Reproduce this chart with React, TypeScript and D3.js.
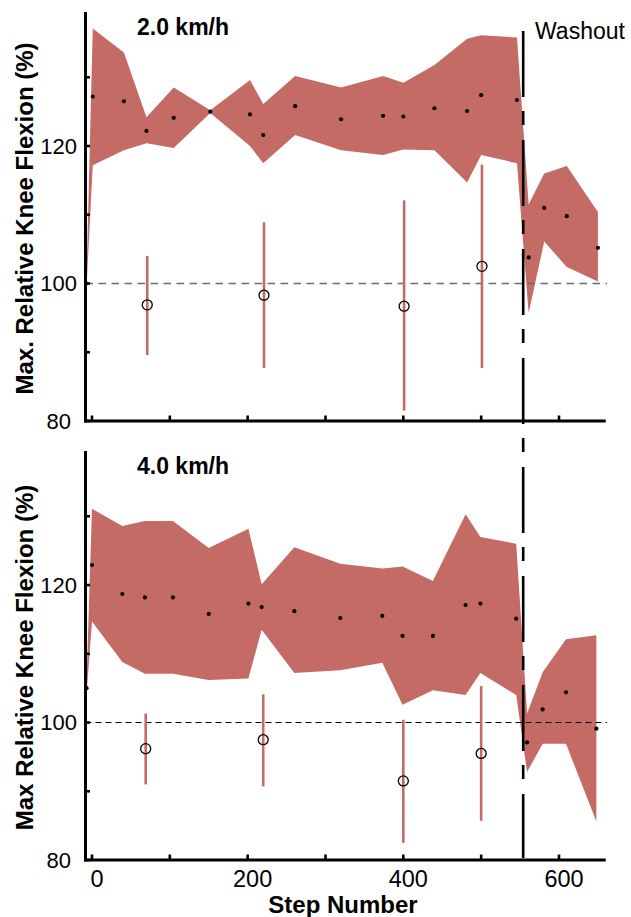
import React from 'react';
import * as d3 from 'd3';

// ---------- data: 2.0 km/h ----------
const slowSteps = [-7, 1, 41, 70, 105, 152, 203, 220, 261, 320, 374, 400, 440, 482, 500, 546, 561, 581, 610, 650];
const slowMean = [100, 127.2, 126.5, 122.2, 124.1, 125.0, 124.6, 121.6, 125.8, 123.9, 124.4, 124.3, 125.5, 125.1, 127.4, 126.7, 103.8, 111.0, 109.8, 105.2];
const slowHigh = [101, 137.1, 133.6, 124.2, 128.5, 125.2, 129.6, 126.1, 130.2, 128.5, 130.2, 129.2, 131.8, 135.6, 136.1, 135.8, 111.5, 116.0, 117.1, 110.4];
const slowLow = [99.5, 117.2, 119.4, 120.4, 119.7, 124.8, 120.0, 117.5, 121.6, 119.4, 118.7, 119.5, 119.4, 114.7, 118.7, 117.5, 95.7, 106.1, 102.4, 100.3];

const slowErrSteps = [71, 221, 401, 501];
const slowErrMean = [96.9, 98.3, 96.7, 102.5];
const slowErrHigh = [104.0, 108.9, 112.1, 117.3];
const slowErrLow = [89.6, 87.7, 81.5, 87.7];

// ---------- data: 4.0 km/h ----------
const fastSteps = [-7, 0, 39, 68, 104, 150, 201, 218, 260, 319, 373, 399, 438, 480, 499, 545, 559, 579, 609, 648];
const fastMean = [105, 122.9, 118.7, 118.2, 118.2, 115.8, 117.3, 116.8, 116.2, 115.2, 115.5, 112.6, 112.6, 117.1, 117.3, 115.1, 97.1, 101.9, 104.4, 99.1];
const fastHigh = [106, 131.1, 128.6, 129.3, 129.3, 125.4, 128.2, 120.1, 125.5, 123.1, 122.4, 122.7, 120.6, 130.3, 127.0, 126.0, 101.3, 107.3, 112.1, 112.7];
const fastLow = [104, 114.7, 108.8, 107.1, 107.1, 106.2, 106.4, 113.5, 107.2, 107.6, 108.7, 102.6, 104.7, 104.0, 107.2, 104.0, 92.8, 96.9, 96.9, 85.6];

const fastErrSteps = [69, 220, 400, 500];
const fastErrMean = [96.2, 97.5, 91.5, 95.5];
const fastErrHigh = [101.3, 104.1, 100.4, 105.3];
const fastErrLow = [91.0, 90.7, 82.5, 85.7];

// ---------- axes ----------
const xTicks = [0, 100, 200, 300, 400, 500, 600];
const xTickLabels = [0, 200, 400, 600];
const yTicks = [80, 90, 100, 110, 120, 130];
const yTickLabels = [80, 100, 120];
const washoutStep = 554;
const baselineValue = 100;

const titles = ['2.0 km/h', '4.0 km/h'];
const yLabels = ['Max. Relative Knee Flexion (%)', 'Max Relative Knee Flexion (%)'];
const xLabel = 'Step Number';
const washoutLabel = 'Washout';

const FONT = "'Liberation Sans', Arial, Helvetica, sans-serif";
const BAND = '#c56b66';

const xScale = d3.scaleLinear().domain([-10, 660]).range([84.2, 605.7]);

type PanelProps = {
  steps: number[]; mean: number[]; high: number[]; low: number[];
  eSteps: number[]; eMean: number[]; eHigh: number[]; eLow: number[];
  top: number; bottom: number; title: string; yLabel: string;
  showXLabels: boolean; refColor: string; refDash: string; refWidth: number;
};

function Panel(p: PanelProps) {
  const y = d3.scaleLinear().domain([80, 139.5]).range([p.bottom, p.top]);
  const rows = p.steps.map((s, i) => ({ s, m: p.mean[i], h: p.high[i], l: p.low[i] }));
  const area = d3.area<any>().x(d => xScale(d.s)).y0(d => y(d.l)).y1(d => y(d.h));
  const x0 = xScale.range()[0];
  const x1 = xScale.range()[1];
  const axisX = 85.5;
  return (
    <g>
      <path d={area(rows) || ''} fill={BAND} stroke="none" />
      {rows.map((d, i) => (
        <circle key={'m' + i} cx={xScale(d.s)} cy={y(d.m)} r={2.1} fill="#000" />
      ))}
      <line x1={axisX} x2={607} y1={y(baselineValue)} y2={y(baselineValue)}
        stroke={p.refColor} strokeWidth={p.refWidth} strokeDasharray={p.refDash} />
      {p.eSteps.map((s, i) => (
        <g key={'e' + i}>
          <line x1={xScale(s)} x2={xScale(s)} y1={y(p.eHigh[i])} y2={y(p.eLow[i])}
            stroke={BAND} strokeWidth={2.6} />
          <circle cx={xScale(s)} cy={y(p.eMean[i])} r={5} fill="none" stroke="#000" strokeWidth={1.3} />
        </g>
      ))}
      {/* axes */}
      <line x1={axisX} x2={axisX} y1={p.top} y2={p.bottom + 1.5} stroke="#000" strokeWidth={3} />
      <line x1={x0} x2={x1} y1={p.bottom} y2={p.bottom} stroke="#000" strokeWidth={3} />
      {xTicks.map(t => (
        <line key={'xt' + t} x1={xScale(t)} x2={xScale(t)} y1={p.bottom} y2={p.bottom - 5.5}
          stroke="#000" strokeWidth={2.6} />
      ))}
      {yTicks.map(t => (
        <line key={'yt' + t} x1={axisX} x2={axisX + 4.5} y1={y(t)} y2={y(t)}
          stroke="#000" strokeWidth={2.6} />
      ))}
      {yTickLabels.map(t => (
        <text key={'yl' + t} x={58.7} y={y(t)} dy="0.36em" textAnchor="middle"
          fontFamily={FONT} fontSize={22} fill="#000">{t}</text>
      ))}
      {p.showXLabels && xTickLabels.map(t => (
        <text key={'xl' + t} x={xScale(t) + 5} y={887} textAnchor="middle"
          fontFamily={FONT} fontSize={23.5} fill="#000">{t}</text>
      ))}
      <text x={137} y={p.top + 23} fontFamily={FONT} fontSize={23} fontWeight="bold" fill="#000">{p.title}</text>
      <text transform={`translate(33,${(p.top + p.bottom) / 2 + 2}) rotate(-90)`} textAnchor="middle"
        fontFamily={FONT} fontSize={24} fontWeight="bold" fill="#000">{p.yLabel}</text>
    </g>
  );
}

export default function App() {
  const wx = xScale(washoutStep);
  return (
    <svg width={631} height={917} viewBox="0 0 631 917"
      style={{ position: 'absolute', left: 0, top: 0, background: '#fff' }}>
      <rect x={0} y={0} width={631} height={917} fill="#fff" />
      <Panel steps={slowSteps} mean={slowMean} high={slowHigh} low={slowLow}
        eSteps={slowErrSteps} eMean={slowErrMean} eHigh={slowErrHigh} eLow={slowErrLow}
        top={12} bottom={421} title={titles[0]} yLabel={yLabels[0]} showXLabels={false}
        refColor="#6a6a6a" refDash="7.5,5.5" refWidth={1.5} />
      <Panel steps={fastSteps} mean={fastMean} high={fastHigh} low={fastLow}
        eSteps={fastErrSteps} eMean={fastErrMean} eHigh={fastErrHigh} eLow={fastErrLow}
        top={451} bottom={860} title={titles[1]} yLabel={yLabels[1]} showXLabels={true}
        refColor="#000" refDash="6,4" refWidth={1} />
      <line x1={wx} x2={wx} y1={31} y2={858} stroke="#000" strokeWidth={2.6}
        strokeDasharray="66,14,14,15" />
      <text x={535} y={39} fontFamily={FONT} fontSize={23} fill="#000">{washoutLabel}</text>
      <text x={343} y={913} textAnchor="middle" fontFamily={FONT} fontSize={24} fontWeight="bold" fill="#000">{xLabel}</text>
    </svg>
  );
}
